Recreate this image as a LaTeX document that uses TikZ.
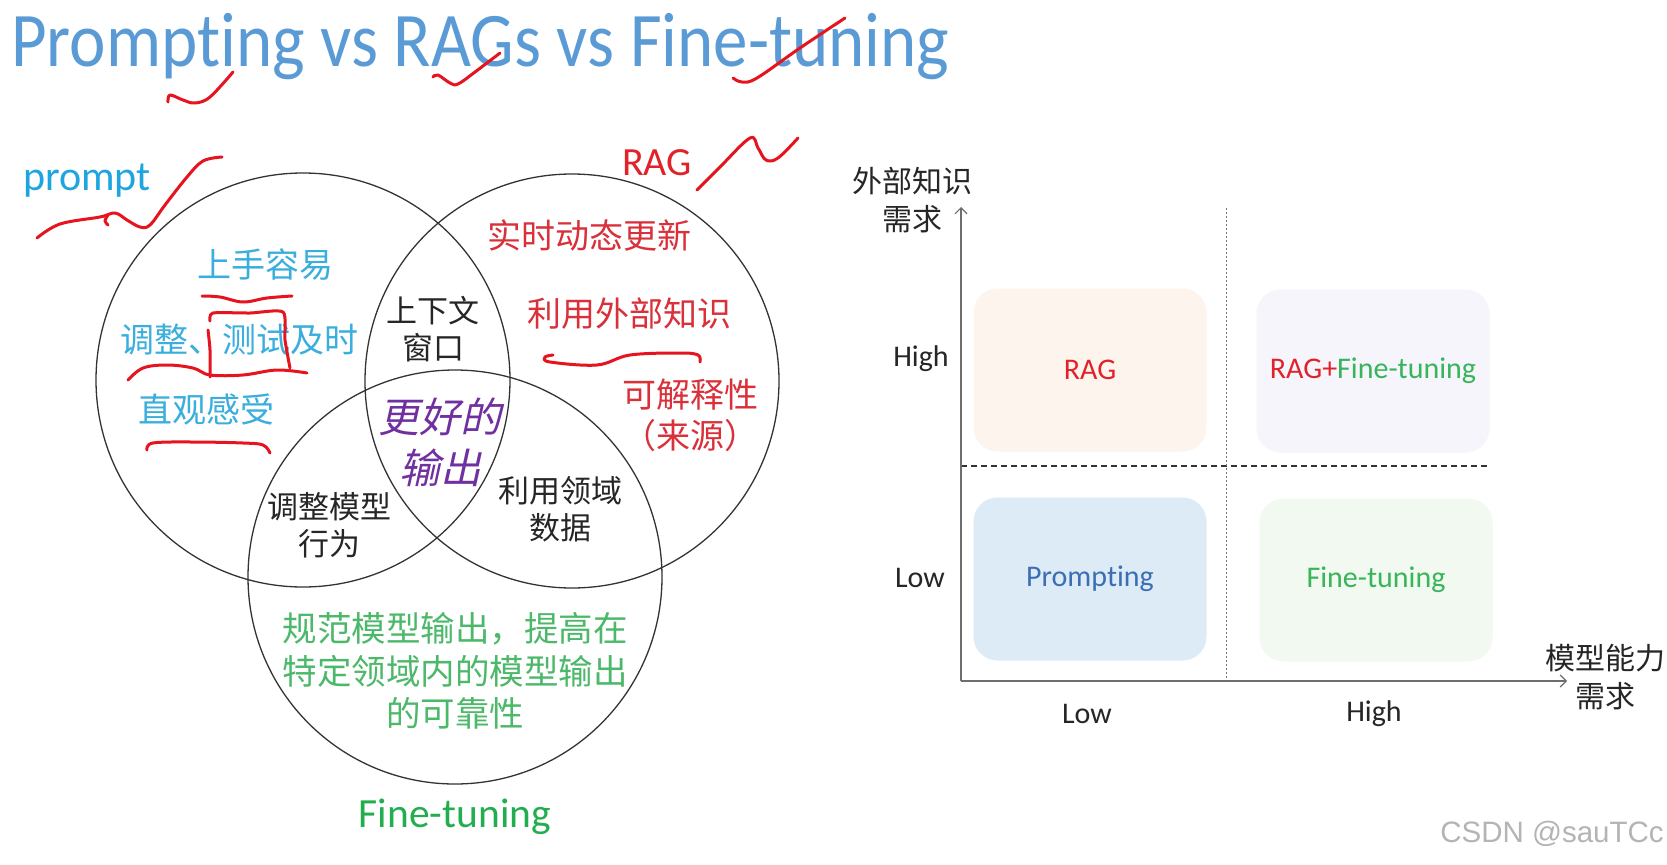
\documentclass[tikz,border=0pt]{standalone}
\usepackage{fontspec}
\usepackage{graphicx}
\setmainfont{Carlito}[Ligatures=NoCommon, Contextuals=NoAlternate]
\newfontfamily\cjk{Noto Sans CJK SC}
\newfontfamily\cjksl[FakeSlant=0.22]{Noto Sans CJK SC}
\newfontfamily\wmfont{Liberation Sans}
\usetikzlibrary{arrows.meta}
\definecolor{titleblue}{HTML}{5B9BD5}
\definecolor{promptblue}{HTML}{1EA5E0}
\definecolor{cnblue}{HTML}{3AAEDC}
\definecolor{ragred}{HTML}{E0232A}
\definecolor{cnred}{HTML}{D9303A}
\definecolor{ftgreen}{HTML}{22AE4E}
\definecolor{cngreen}{HTML}{4CB86A}
\definecolor{outpurple}{HTML}{7030A0}
\definecolor{annred}{HTML}{E5141E}
\definecolor{ragfill}{HTML}{FDF4EE}
\definecolor{rfffill}{HTML}{F5F5FB}
\definecolor{prfill}{HTML}{DDEBF7}
\definecolor{ftfill}{HTML}{F2F9F0}
\definecolor{prtext}{HTML}{3C6EB4}
\definecolor{fttext}{HTML}{38B45A}
\definecolor{wmgray}{HTML}{B4B4B4}
\definecolor{axisgray}{HTML}{6E6E6E}
\tikzset{
  venn/.style={circle, draw=black!80, line width=1.3bp, minimum size=414bp},
  cjkblue/.style={font=\cjk\fontsize{34bp}{40bp}\selectfont, text=cnblue},
  cjkred/.style={font=\cjk\fontsize{34bp}{41bp}\selectfont, text=cnred, align=center},
  cjkblack/.style={font=\cjk\fontsize{31bp}{37bp}\selectfont, text=black!85, align=center},
  cjkgreen/.style={font=\cjk\fontsize{34.5bp}{42.5bp}\selectfont, text=cngreen, align=center},
  cjkpurple/.style={font=\cjksl\fontsize{41bp}{51bp}\selectfont, text=outpurple, align=center},
  axlabel/.style={font=\cjk\fontsize{30bp}{38bp}\selectfont, text=black!85, align=center},
  ticklab/.style={font=\fontsize{30bp}{36bp}\selectfont, text=black!85},
  qbox/.style={rounded corners=24bp, minimum width=233bp, minimum height=163bp, font=\fontsize{30bp}{36bp}\selectfont},
  axis/.style={draw=axisgray, line width=1.3bp, -{Straight Barb[length=6bp, width=12bp, line width=1.2bp]}},
  annot/.style={draw=annred, line width=3bp, line cap=round, line join=round},
}
\begin{document}
\begin{tikzpicture}[x=1bp, y=-1bp, every node/.style={inner sep=0pt, outer sep=0pt}]
\useasboundingbox (0,0) rectangle (1667,864);
\fill[white] (0,0) rectangle (1667,864);

% title
\node[anchor=base west, text=titleblue, font=\fontsize{69bp}{80bp}\selectfont] (title) at (11,66) {\scalebox{1}[1.12]{Prompting vs RAGs vs Fine-tuning}};

% Venn circles
\node[venn] (cP) at (303,380) {};
\node[venn] (cR) at (572,381) {};
\node[venn] (cF) at (455,577) {};

% circle labels
\node[anchor=base west, text=promptblue, font=\fontsize{42bp}{50bp}\selectfont] (lP) at (23,190) {prompt};
\node[text=ragred, font=\fontsize{40bp}{48bp}\selectfont] (lR) at (657,163) {RAG};
\node[text=ftgreen, font=\fontsize{41.5bp}{48bp}\selectfont] (lF) at (455,817) {Fine-tuning};

% texts in Venn
\node[cjkblue] (t1) at (265,265) {上手容易};
\node[cjkblue] (t2) at (239,340) {调整、测试及时};
\node[cjkblue] (t3) at (206,409) {直观感受};
\node[cjkblack] (t4) at (433,329) {上下文\\窗口};
\node[cjkred] (t5) at (589,235) {实时动态更新};
\node[cjkred] (t6) at (629,314) {利用外部知识};
\node[cjkred] (t7) at (690,415) {可解释性\\（来源）};
\node[cjkpurple] (t8) at (440,442) {更好的\\输出};
\node[cjkblack] (t9) at (329,525) {调整模型\\行为};
\node[cjkblack] (t10) at (560,509) {利用领域\\数据};
\node[cjkgreen] (t11) at (455,671) {规范模型输出，提高在\\特定领域内的模型输出\\的可靠性};

% quadrant chart
\node[qbox, fill=ragfill, text=ragred] (bR) at (1090,370) {RAG};
\node[qbox, fill=rfffill] (bRF) at (1373,371) {\textcolor{ragred}{RAG+}\textcolor{fttext}{Fine-tuning}};
\node[qbox, fill=prfill, text=prtext] (bP) at (1090,579) {Prompting};
\node[qbox, fill=ftfill, text=fttext] (bF) at (1376,580) {Fine-tuning};

\coordinate (O) at (961,681);
\coordinate (Ytop) at (961,207);
\coordinate (Xend) at (1567,681);
\coordinate (hL) at (961,466);
\coordinate (hR) at (1490,466);
\coordinate (vT) at (1226,208);
\coordinate (vB) at (1226,678);
\draw[black!80, line width=1.4bp, dash pattern=on 6bp off 4bp] (hL) -- (hR);
\draw[black!55, line width=1bp, dash pattern=on 2bp off 2bp] (vT) -- (vB);
\draw[axis] (O) -- (Ytop);
\draw[axis] (O) -- (Xend);

\node[axlabel] (yl) at (912,200) {外部知识\\需求};
\node[axlabel] (xl) at (1605,677) {模型能力\\需求};
\node[ticklab] (yH) at (921,359) {High};
\node[ticklab] (yLo) at (920,578) {Low};
\node[ticklab] (xLo) at (1087,714) {Low};
\node[ticklab] (xH) at (1374,714) {High};

% watermark
\node[font=\wmfont\fontsize{29.5bp}{32bp}\selectfont, text=wmgray] (wm) at (1552,834) {CSDN @sauTCc};

% hand-drawn annotations
\draw[annot] plot[smooth, tension=0.6] coordinates {(168,102) (170,95) (183,100) (195,103) (210,97) (233,72)};
\draw[annot] plot[smooth, tension=0.6] coordinates {(433,77) (438,75) (450,83) (458,84) (475,72) (500,53)};
\draw[annot] plot[smooth, tension=0.6] coordinates {(733,78) (742,82) (757,78) (800,48) (845,18)};
\draw[annot] plot[smooth, tension=0.6] coordinates {(37,238) (60,224) (100,217) (115,213) (127,220) (140,227) (150,225) (165,205) (187,177) (203,161) (222,157)};
\draw[annot] plot[smooth, tension=0.6] coordinates {(108,215) (105,221) (108,225)};
\draw[annot] plot[smooth, tension=0.6] coordinates {(697,190) (720,167) (750,138) (758,148) (766,160) (778,158) (798,138)};
\draw[annot] plot[smooth, tension=0.6] coordinates {(202,296) (220,297) (243,302) (267,298) (292,296)};
\draw[annot] plot[smooth, tension=0.4] coordinates {(210,321) (213,313) (250,313) (283,312) (285,340) (290,368)};
\draw[annot] plot[smooth, tension=0.4] coordinates {(208,330) (210,350) (210,377)};
\draw[annot] plot[smooth, tension=0.6] coordinates {(128,380) (143,368) (167,365) (193,368) (210,375) (243,375) (277,370) (307,373)};
\draw[annot] plot[smooth, tension=0.6] coordinates {(147,450) (153,443) (193,442) (243,443) (263,445) (270,453)};
\draw[annot] plot[smooth, tension=0.6] coordinates {(553,355) (545,357) (550,362) (597,365) (630,355) (680,353) (698,355) (700,362)};
\end{tikzpicture}
\end{document}
